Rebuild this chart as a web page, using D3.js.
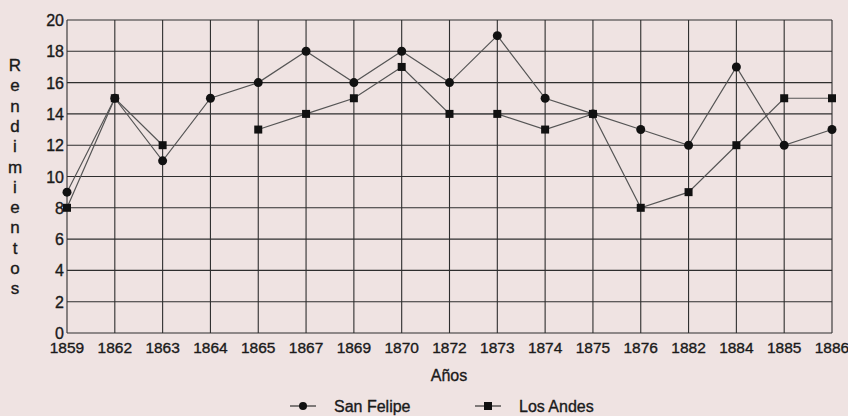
<!DOCTYPE html>
<html>
<head>
<meta charset="utf-8">
<script src="https://d3js.org/d3.v7.min.js"></script>
<style>
  body { margin: 0; background: #efe3e2; }
  svg { display: block; }
  text { font-family: "Liberation Sans", Arial, sans-serif; fill: #1a1a1a; stroke: #1a1a1a; stroke-width: 0.35; }
</style>
</head>
<body>
<svg id="grafiek" width="848" height="416"></svg>
<script>
// años (categorias del eje x)
const anos = ["1859", "1862", "1863", "1864", "1865", "1867", "1869", "1870", "1872",
  "1873", "1874", "1875", "1876", "1882", "1884", "1885", "1886"];

// rendimientos por localidad (null = sin dato)
const sanFelipe = [9, 15, 11, 15, 16, 18, 16, 18, 16, 19, 15, 14, 13, 12, 17, 12, 13];
const losAndes = [8, 15, 12, null, 13, 14, 15, 17, 14, 14, 13, 14, 8, 9, 12, 15, 15];

const yTicks = [0, 2, 4, 6, 8, 10, 12, 14, 16, 18, 20];
const tituloY = "Rendimientos";

const svg = d3.select("#grafiek");

//schalen
const x = d3.scalePoint().domain(anos).range([67, 832]);
const y = d3.scaleLinear().domain([0, 20]).range([333, 20]);

// rejilla
svg.append("g")
  .selectAll("line")
  .data(yTicks)
  .join("line")
  .attr("x1", 67).attr("x2", 832)
  .attr("y1", d => y(d)).attr("y2", d => y(d))
  .attr("stroke", "#2e2e2e").attr("stroke-width", 1.1);

svg.append("g")
  .selectAll("line")
  .data(anos)
  .join("line")
  .attr("x1", d => x(d)).attr("x2", d => x(d))
  .attr("y1", y(0)).attr("y2", y(20))
  .attr("stroke", "#2e2e2e").attr("stroke-width", 1.1);

// etiquetas eje y
svg.append("g")
  .selectAll("text")
  .data(yTicks)
  .join("text")
  .attr("x", 64)
  .attr("y", d => y(d) + 6)
  .attr("text-anchor", "end")
  .attr("font-size", 16)
  .text(d => d);

// etiquetas eje x
svg.append("g")
  .selectAll("text")
  .data(anos)
  .join("text")
  .attr("x", d => x(d))
  .attr("y", 353)
  .attr("text-anchor", "middle")
  .attr("font-size", 15.5)
  .text(d => d);

// titulo eje x
svg.append("text")
  .attr("x", 449).attr("y", 381)
  .attr("text-anchor", "middle")
  .attr("font-size", 16)
  .text("Años");

// titulo eje y, letra por letra
svg.append("g")
  .selectAll("text")
  .data(tituloY.split(""))
  .join("text")
  .attr("x", 15)
  .attr("y", (d, i) => 71 + i * 20.3)
  .attr("text-anchor", "middle")
  .attr("font-size", 17)
  .text(d => d);

// lineas
const lijn = d3.line()
  .defined(d => d != null)
  .x((d, i) => x(anos[i]))
  .y(d => y(d));

[sanFelipe, losAndes].forEach(serie => {
  svg.append("path")
    .datum(serie)
    .attr("d", lijn)
    .attr("fill", "none")
    .attr("stroke", "#555")
    .attr("stroke-width", 1.2);
});

// marcadores
svg.append("g")
  .selectAll("circle")
  .data(sanFelipe)
  .join("circle")
  .attr("cx", (d, i) => x(anos[i]))
  .attr("cy", d => y(d))
  .attr("r", 4.5)
  .attr("fill", "#111");

svg.append("g")
  .selectAll("rect")
  .data(losAndes.map((v, i) => ({ ano: anos[i], v: v })).filter(d => d.v != null))
  .join("rect")
  .attr("x", d => x(d.ano) - 4)
  .attr("y", d => y(d.v) - 4)
  .attr("width", 8).attr("height", 8)
  .attr("fill", "#111");

// leyenda
const leyenda = [
  { nombre: "San Felipe", forma: "circle", x0: 290 },
  { nombre: "Los Andes", forma: "rect", x0: 475 }
];
const ly = 406;
leyenda.forEach(l => {
  svg.append("line")
    .attr("x1", l.x0).attr("x2", l.x0 + 26)
    .attr("y1", ly).attr("y2", ly)
    .attr("stroke", "#333").attr("stroke-width", 1.2);
  if (l.forma === "circle") {
    svg.append("circle").attr("cx", l.x0 + 13).attr("cy", ly).attr("r", 4).attr("fill", "#111");
  } else {
    svg.append("rect").attr("x", l.x0 + 9).attr("y", ly - 4).attr("width", 8).attr("height", 8).attr("fill", "#111");
  }
  svg.append("text")
    .attr("x", l.x0 + 44).attr("y", ly + 6)
    .attr("font-size", 16)
    .text(l.nombre);
});
</script>
</body>
</html>
